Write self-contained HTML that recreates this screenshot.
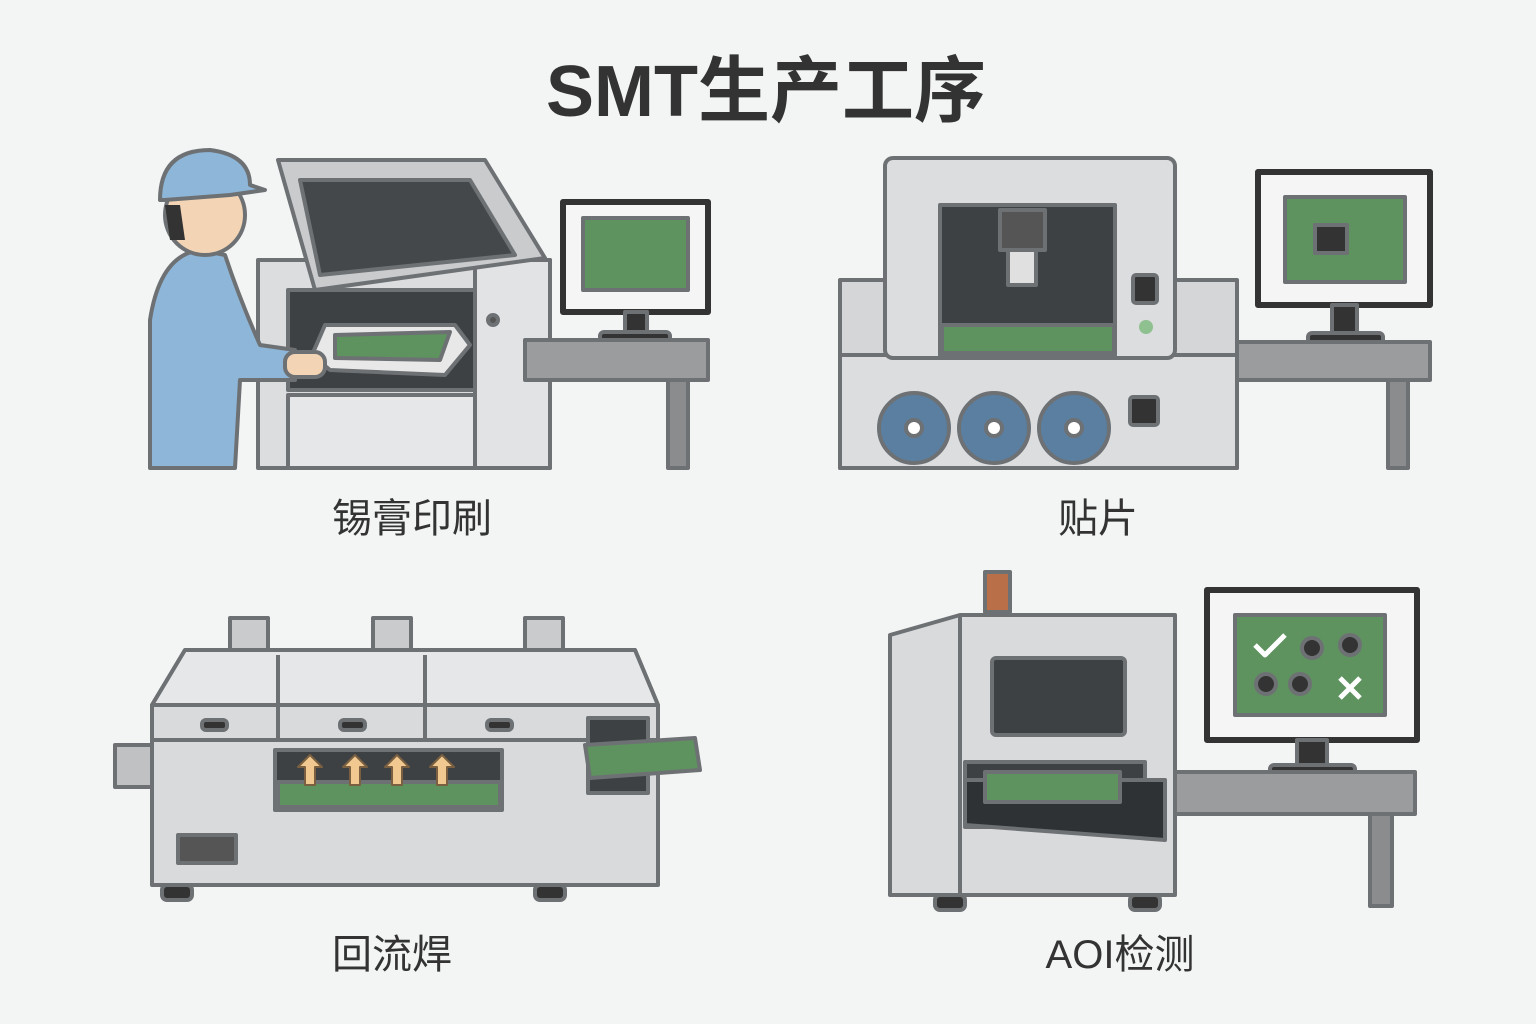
<!DOCTYPE html>
<html><head><meta charset="utf-8"><style>
html,body{margin:0;padding:0;background:#f3f4f4;}
svg{display:block}
text{font-family:"Liberation Sans","Noto Sans CJK SC",sans-serif;fill:#333}
</style></head><body>
<svg width="1536" height="1024" viewBox="0 0 1536 1024" xmlns="http://www.w3.org/2000/svg">
<rect width="1536" height="1024" fill="#f3f4f4"/>
<text x="766" y="116" font-size="72" font-weight="bold" text-anchor="middle">SMT生产工序</text>
<g stroke="#6e7174" stroke-width="4" stroke-linejoin="round">
<!-- Q1 printer -->
<rect x="258" y="260" width="292" height="208" fill="#dcdddf"/>
<rect x="475" y="260" width="75" height="208" fill="#e2e3e4"/>
<rect x="288" y="290" width="187" height="100" fill="#3e4144"/>
<polygon points="278,160 485,160 545,258 315,290" fill="#c9cbcd"/>
<polygon points="300,180 470,180 515,255 320,275" fill="#45484b"/>
<rect x="288" y="395" width="187" height="73" fill="#e6e7e8"/>
<polygon points="325,325 455,325 470,345 445,375 330,370 312,355" fill="#e8e8e8"/>
<polygon points="335,335 450,332 440,360 335,358" fill="#5e925e"/>
<circle cx="493" cy="320" r="5" fill="#555"/>
<!-- worker -->
<path d="M150,468 L150,320 Q160,255 200,250 L225,255 Q240,300 260,345 L295,350 L295,380 L240,380 L235,468 Z" fill="#8db6d8"/>
<circle cx="205" cy="215" r="40" fill="#f3d5b5"/>
<path d="M160,200 Q160,150 210,150 Q250,155 250,185 L265,190 L230,195 L165,200 Z" fill="#8db6d8"/>
<path d="M165,205 L180,205 L185,240 L170,240 Z" fill="#333" stroke="none"/>
<rect x="285" y="352" width="40" height="25" rx="10" fill="#f3d5b5"/>
<!-- monitor 1 -->
<rect x="563" y="202" width="145" height="110" fill="#f5f5f5" stroke="#333" stroke-width="6"/>
<rect x="583" y="218" width="105" height="72" fill="#5e925e"/>
<rect x="625" y="312" width="22" height="22" fill="#333"/>
<rect x="600" y="332" width="70" height="14" rx="4" fill="#333"/>
<rect x="525" y="340" width="183" height="40" fill="#9a9c9e"/>
<rect x="668" y="380" width="20" height="88" fill="#8a8c8e"/>
<!-- Q2 pick and place -->
<rect x="840" y="280" width="397" height="188" fill="#d5d6d8"/>
<rect x="840" y="355" width="397" height="113" fill="#dcdddf"/>
<rect x="885" y="158" width="290" height="200" rx="8" fill="#dcdddf"/>
<rect x="940" y="205" width="175" height="150" fill="#3e4144"/>
<rect x="942" y="325" width="172" height="28" fill="#5e925e"/>
<rect x="1000" y="210" width="45" height="40" fill="#555"/>
<rect x="1008" y="250" width="28" height="35" fill="#e0e0e0"/>
<circle cx="914" cy="428" r="35" fill="#5a7fa0"/><circle cx="914" cy="428" r="8" fill="#fff"/>
<circle cx="994" cy="428" r="35" fill="#5a7fa0"/><circle cx="994" cy="428" r="8" fill="#fff"/>
<circle cx="1074" cy="428" r="35" fill="#5a7fa0"/><circle cx="1074" cy="428" r="8" fill="#fff"/>
<rect x="1133" y="275" width="24" height="28" rx="3" fill="#333"/>
<circle cx="1146" cy="327" r="7" fill="#8fc08f" stroke="none"/>
<rect x="1130" y="397" width="28" height="28" rx="3" fill="#333"/>
<rect x="1258" y="172" width="172" height="133" fill="#f5f5f5" stroke="#333" stroke-width="6"/>
<rect x="1285" y="197" width="120" height="85" fill="#5e925e"/>
<rect x="1315" y="225" width="32" height="28" fill="#333"/>
<rect x="1332" y="305" width="25" height="30" fill="#333"/>
<rect x="1308" y="333" width="75" height="15" rx="4" fill="#333"/>
<rect x="1237" y="342" width="193" height="38" fill="#9a9c9e"/>
<rect x="1388" y="380" width="20" height="88" fill="#8a8c8e"/>
<!-- Q3 reflow -->
<rect x="230" y="618" width="38" height="35" fill="#c9cbcd"/>
<rect x="373" y="618" width="38" height="35" fill="#c9cbcd"/>
<rect x="525" y="618" width="38" height="35" fill="#c9cbcd"/>
<polygon points="185,650 635,650 658,705 658,885 152,885 152,705" fill="#d9dadc"/>
<polygon points="185,650 635,650 658,705 152,705" fill="#e6e7e8"/>
<line x1="278" y1="655" x2="278" y2="740"/><line x1="425" y1="655" x2="425" y2="740"/>
<line x1="152" y1="740" x2="658" y2="740"/>
<rect x="115" y="745" width="37" height="42" fill="#bfc1c3"/>
<rect x="202" y="720" width="25" height="10" rx="4" fill="#333"/>
<rect x="340" y="720" width="25" height="10" rx="4" fill="#333"/>
<rect x="487" y="720" width="25" height="10" rx="4" fill="#333"/>
<rect x="275" y="750" width="227" height="60" fill="#3e4144"/>
<rect x="278" y="782" width="222" height="25" fill="#5e925e"/>
<g fill="#f0c890" stroke="#7a6040" stroke-width="2">
<path d="M305,785 l0,-18 l-7,0 l12,-12 l12,12 l-7,0 l0,18z"/>
<path d="M350,785 l0,-18 l-7,0 l12,-12 l12,12 l-7,0 l0,18z"/>
<path d="M392,785 l0,-18 l-7,0 l12,-12 l12,12 l-7,0 l0,18z"/>
<path d="M437,785 l0,-18 l-7,0 l12,-12 l12,12 l-7,0 l0,18z"/>
</g>
<rect x="588" y="718" width="60" height="75" fill="#3e4144"/>
<polygon points="585,745 695,738 700,770 590,778" fill="#5e925e"/>
<rect x="178" y="835" width="58" height="28" fill="#555"/>
<rect x="162" y="885" width="30" height="15" rx="5" fill="#333"/>
<rect x="535" y="885" width="30" height="15" rx="5" fill="#333"/>
<!-- Q4 AOI -->
<rect x="985" y="572" width="25" height="40" fill="#b96f48"/>
<polygon points="890,635 960,615 1175,615 1175,895 890,895" fill="#d9dadc"/>
<line x1="960" y1="615" x2="960" y2="895"/>
<rect x="992" y="658" width="133" height="77" rx="4" fill="#3e4144"/>
<rect x="965" y="762" width="180" height="65" fill="#3e4144"/>
<polygon points="965,780 1165,780 1165,840 965,825" fill="#2f3234"/>
<rect x="985" y="772" width="135" height="30" fill="#5e925e"/>
<rect x="935" y="895" width="30" height="15" rx="5" fill="#333"/>
<rect x="1130" y="895" width="30" height="15" rx="5" fill="#333"/>
<rect x="1207" y="590" width="210" height="150" fill="#f5f5f5" stroke="#333" stroke-width="6"/>
<rect x="1235" y="615" width="150" height="100" fill="#5e925e"/>
<path d="M1255,645 l10,10 l20,-20" fill="none" stroke="#fff" stroke-width="5"/>
<path d="M1340,678 l20,20 M1360,678 l-20,20" stroke="#fff" stroke-width="5"/>
<circle cx="1312" cy="648" r="10" fill="#333"/><circle cx="1350" cy="645" r="10" fill="#333"/>
<circle cx="1266" cy="684" r="10" fill="#333"/><circle cx="1300" cy="684" r="10" fill="#333"/>
<rect x="1297" y="740" width="30" height="28" fill="#333"/>
<rect x="1270" y="765" width="85" height="16" rx="4" fill="#333"/>
<rect x="1175" y="772" width="240" height="42" fill="#9a9c9e"/>
<rect x="1370" y="814" width="22" height="92" fill="#8a8c8e"/>
</g>
<text x="412" y="532" font-size="40" text-anchor="middle">锡膏印刷</text>
<text x="1098" y="532" font-size="40" text-anchor="middle">贴片</text>
<text x="392" y="968" font-size="40" text-anchor="middle">回流焊</text>
<text x="1120" y="968" font-size="40" text-anchor="middle">AOI检测</text>
</svg>
</body></html>
